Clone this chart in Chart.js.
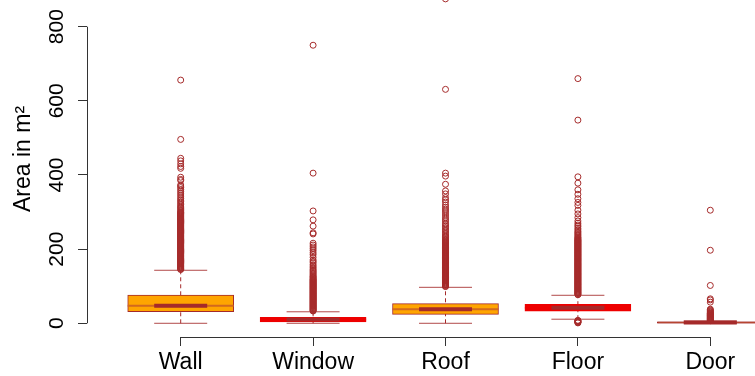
<!DOCTYPE html>
<html>
<head>
<meta charset="utf-8">
<script src="https://cdn.jsdelivr.net/npm/chart.js@4.4.0/dist/chart.umd.min.js"></script>
<style>
  body { margin: 0; background: #fff; }
  #wrap { width: 755px; height: 376px; }
</style>
</head>
<body>
<div id="wrap"><canvas id="myChart" width="755" height="376"></canvas></div>
<script>
const categories = ['Wall', 'Window', 'Roof', 'Floor', 'Door']
const yTicks = [0, 200, 400, 600, 800]
const yTitle = 'Area in m²'

// box statistics (m²)
const q1 = [31, 4, 24, 33, 1]
const medians = [47.5, 10.5, 38, 42, 2]
const q3 = [76, 16, 53, 51, 3]
const whiskerLow = [0, 0, 0, 11, 0]
const whiskerHigh = [143, 31, 97, 75.5, 6]

// outliers (the dense runs are packed so closely that they look like solid bars)
const wallOut = [145, 146, 148, 149, 151, 152, 154, 155, 157, 158, 160, 161, 163, 164, 166, 167, 169, 170, 172, 173,
  175, 176, 178, 179, 181, 182, 184, 185, 187, 188, 190, 191, 193, 194, 196, 197, 199, 200, 202, 203, 205, 206, 208,
  209, 211, 212, 214, 215, 217, 218, 220, 221, 223, 224, 226, 227, 229, 230, 232, 233, 235, 236, 238, 239, 241, 242,
  244, 245, 247, 248, 250, 251, 253, 254, 256, 257, 259, 260, 262, 263, 265, 266, 268, 269, 271, 272, 274, 275, 277,
  278, 280, 281, 283, 284, 286, 287, 289, 290, 292, 293, 295, 296, 298, 299, 301, 304, 307, 310, 313, 316, 320, 324,
  328, 332, 336, 341, 346, 351, 356, 361, 366, 370, 373, 385, 388, 394, 418, 423, 430, 438, 445, 496, 656]
const windowOut = [33, 34, 36, 37, 39, 40, 42, 43, 45, 46, 48, 49, 51, 52, 54, 55, 57, 58, 60, 61, 63, 64, 66, 67, 69,
  70, 72, 73, 75, 76, 78, 79, 81, 82, 84, 85, 87, 88, 90, 91, 93, 94, 96, 97, 99, 100, 102, 103, 105, 106, 108, 109,
  111, 112, 114, 115, 117, 118, 120, 122, 124, 126, 128, 131, 134, 137, 140, 143, 146, 150, 154, 158, 163, 167, 171,
  178, 185, 190, 196, 201, 206, 211, 216, 241, 244, 262, 279, 303, 405, 750]
const roofOut = [99, 100, 102, 103, 105, 106, 108, 109, 111, 112, 114, 115, 117, 118, 120, 121, 123, 124, 126, 127, 129,
  130, 132, 133, 135, 136, 138, 139, 141, 142, 144, 145, 147, 148, 150, 151, 153, 154, 156, 157, 159, 160, 162, 163,
  165, 166, 168, 169, 171, 172, 174, 175, 177, 178, 180, 181, 183, 184, 186, 187, 189, 190, 192, 193, 195, 196, 198,
  199, 201, 202, 204, 205, 207, 208, 210, 211, 213, 214, 216, 217, 219, 220, 222, 224, 226, 229, 232, 235, 238, 242,
  246, 250, 254, 258, 262, 266, 270, 276, 281, 286, 292, 298, 303, 308, 313, 319, 327, 333, 339, 349, 357, 375, 397,
  405, 631, 875]
const floorOut = [1, 2, 3, 4, 5, 6, 7, 8, 77, 78, 80, 81, 83, 84, 86, 87, 89, 90, 92, 93, 95, 96, 98, 99, 101, 102, 104,
  105, 107, 108, 110, 111, 113, 114, 116, 117, 119, 120, 122, 123, 125, 126, 128, 129, 131, 132, 134, 135, 137, 138,
  140, 141, 143, 144, 146, 147, 149, 150, 152, 153, 155, 156, 158, 159, 161, 162, 164, 165, 167, 168, 170, 171, 173,
  174, 176, 177, 179, 180, 182, 183, 185, 186, 188, 189, 191, 192, 194, 195, 197, 198, 200, 201, 203, 204, 206, 207,
  209, 210, 212, 213, 215, 216, 218, 219, 221, 222, 224, 225, 227, 229, 231, 233, 236, 239, 242, 245, 248, 252, 256,
  261, 265, 270, 276, 285, 295, 305, 318, 326, 336, 348, 360, 378, 395, 548, 660]
const doorOut = [7, 8, 9, 10, 11, 12, 13, 14, 15, 16, 17, 18, 19, 20, 21, 22, 23, 24, 25, 26, 27, 28, 30, 32, 34, 36,
  38, 57, 63, 66, 102, 197, 305]
const outliers = [wallOut, windowOut, roofOut, floorOut, doorOut]

const pos = categories.map((c, i) => i + 1)
const boxFill = ['#FFA500', '#EE0000', '#FFA500', '#EE0000', '#FFA500']
const boxBorder = ['#A52A2A', '#EE0000', '#A52A2A', '#EE0000', '#A52A2A']
const midColor = ['#D2691E', '#EE0000', '#D2691E', '#EE0000', 'rgba(165,42,42,0.75)']
const brown = '#A52A2A'
const font = 'Liberation Sans, Arial, Helvetica, sans-serif'

let whiskerPts = []
pos.forEach((x, i) => {
  whiskerPts = [...whiskerPts, { x, y: whiskerLow[i] }, { x, y: whiskerHigh[i] }, { x, y: null }]
})
const capPts = pos.flatMap((x, i) => [{ x, y: whiskerLow[i] }, { x, y: whiskerHigh[i] }])
const medPts = pos.map((x, i) => ({ x, y: medians[i] }))
const outPts = pos.flatMap((x, i) => outliers[i].map(y => ({ x, y })))

// R style axes: line only spans first..last tick, title centred on the (taller) R plot region
const axisLines = {
  id: 'axisLines',
  afterDraw(chart) {
    const { ctx, scales: { x, y }, chartArea } = chart
    ctx.save()
    ctx.strokeStyle = '#333'
    ctx.lineWidth = 1
    ctx.beginPath()
    const ax = Math.round(chartArea.left) + 0.5
    ctx.moveTo(ax, y.getPixelForValue(yTicks[0]))
    ctx.lineTo(ax, y.getPixelForValue(yTicks[yTicks.length - 1]))
    const ay = Math.round(chartArea.bottom) + 0.5
    ctx.moveTo(x.getPixelForValue(pos[0]), ay)
    ctx.lineTo(x.getPixelForValue(pos[pos.length - 1]), ay)
    ctx.stroke()

    ctx.translate(24, 159)
    ctx.rotate(-Math.PI / 2)
    ctx.fillStyle = '#000'
    ctx.font = '23px ' + font
    ctx.textAlign = 'center'
    ctx.textBaseline = 'middle'
    ctx.fillText(yTitle, 0, 0)
    ctx.restore()
  }
}

new Chart(document.getElementById('myChart'), {
  type: 'bar',
  data: {
    datasets: [
      {
        type: 'line',
        data: whiskerPts,
        borderColor: brown,
        borderWidth: 1,
        borderDash: [4, 3],
        pointRadius: 0,
        spanGaps: false,
        order: 6
      },
      {
        type: 'bar',
        data: pos.map((x, i) => ({ x, y: [q1[i], q3[i]] })),
        backgroundColor: boxFill,
        borderColor: boxBorder,
        borderWidth: 1,
        borderSkipped: false,
        barThickness: 106,
        order: 5
      },
      {
        type: 'scatter',
        data: capPts,
        pointStyle: 'line',
        pointRadius: 26.5,
        borderWidth: 1,
        borderColor: 'rgba(165,42,42,0.85)',
        order: 4
      },
      {
        type: 'scatter',
        data: medPts,
        pointStyle: 'line',
        pointRadius: 53,
        borderWidth: 2,
        borderColor: midColor,
        order: 3
      },
      {
        type: 'scatter',
        data: medPts,
        pointStyle: 'line',
        pointRadius: 26.5,
        borderWidth: 4,
        borderColor: brown,
        order: 2
      },
      {
        type: 'scatter',
        data: outPts,
        pointStyle: 'circle',
        pointRadius: 3,
        borderWidth: 1,
        borderColor: brown,
        backgroundColor: 'rgba(0,0,0,0)',
        order: 1
      }
    ]
  },
  options: {
    responsive: false,
    animation: false,
    events: [],
    devicePixelRatio: 1,
    layout: { padding: 0, autoPadding: false },
    plugins: { legend: { display: false }, tooltip: { enabled: false } },
    scales: {
      x: {
        type: 'linear',
        min: 0.2923,
        max: 5.3376,
        offset: false,
        afterBuildTicks: s => { s.ticks = pos.map(v => ({ value: v })) },
        afterFit: s => { s.height = 39; s.paddingLeft = 0; s.paddingRight = 0 },
        ticks: {
          callback: (v, i) => categories[i],
          color: '#000',
          padding: 3,
          maxRotation: 0,
          font: { family: font, size: 23 }
        },
        grid: { drawOnChartArea: false, drawTicks: true, tickLength: 9, color: '#333', offset: false },
        border: { display: false }
      },
      y: {
        min: -37,
        max: 872,
        afterBuildTicks: s => { s.ticks = yTicks.map(v => ({ value: v })) },
        afterFit: s => { s.width = 87; s.paddingTop = 0; s.paddingBottom = 0 },
        ticks: {
          color: '#000',
          padding: 3,
          minRotation: 90,
          maxRotation: 90,
          crossAlign: 'center',
          font: { family: font, size: 21 }
        },
        grid: { drawOnChartArea: false, drawTicks: true, tickLength: 9, color: '#333' },
        border: { display: false }
      }
    }
  },
  plugins: [axisLines]
})
</script>
</body>
</html>
